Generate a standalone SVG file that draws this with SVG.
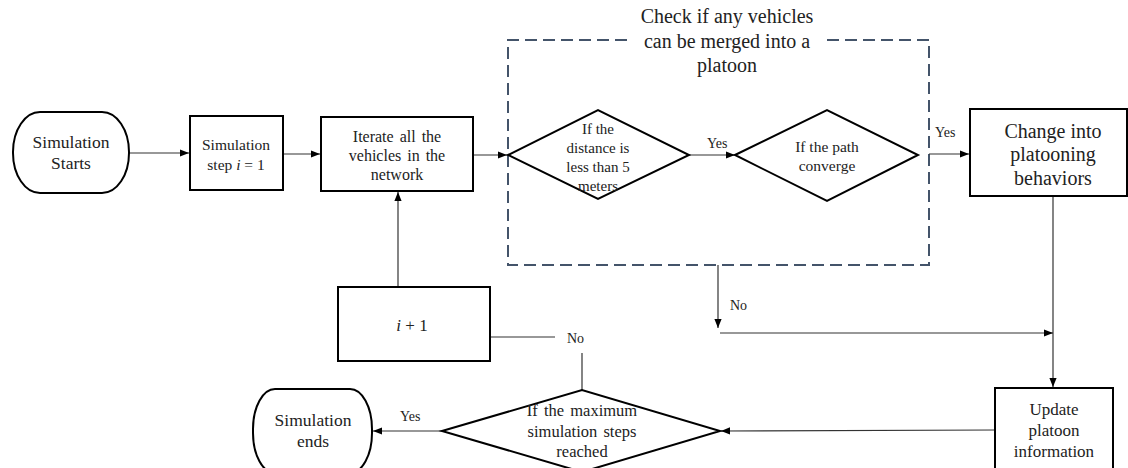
<svg xmlns="http://www.w3.org/2000/svg" width="1128" height="468" viewBox="0 0 1128 468" font-family="'Liberation Serif', 'Times New Roman', serif">
<defs>
<marker id="ah" viewBox="0 0 10 10" refX="10" refY="5" markerWidth="9" markerHeight="9" markerUnits="userSpaceOnUse" orient="auto">
<path d="M0,1 L10,5 L0,9 Z" fill="#000"/>
</marker>
</defs>
<style>
text{font-family:'Liberation Serif','Times New Roman',serif}
.t{fill:#222;text-anchor:middle}
.node{fill:#fff;stroke:#000;stroke-width:2}
.c{fill:none;stroke:#333;stroke-width:1.2}
.a{marker-end:url(#ah)}
.dash{fill:none;stroke:#44546A;stroke-width:2;stroke-dasharray:12 6}
.lbl{font-size:14px;text-anchor:start}
</style>
<rect width="1128" height="468" fill="#fff"/>

<g id="group-check">
<path class="dash" d="M627,40 H508 V265 H929 V40 H827"/>
<text class="t" font-size="20" x="727" y="23">Check if any vehicles</text>
<text class="t" font-size="20" x="727" y="48">can be merged into a</text>
<text class="t" font-size="20" x="727" y="72">platoon</text>
</g>

<g id="connectors">
<line class="c a" x1="129" y1="153" x2="189" y2="153"/>
<line class="c a" x1="283" y1="154" x2="320" y2="154"/>
<line class="c a" x1="473" y1="155" x2="507" y2="155"/>
<line class="c a" x1="689" y1="155" x2="735" y2="155"/>
<line class="c a" x1="929" y1="154" x2="969" y2="154"/>
<line class="c a" x1="1053" y1="197" x2="1053" y2="387"/>
<line class="c a" x1="718" y1="265" x2="718" y2="328"/>
<line class="c a" x1="720" y1="333" x2="1053" y2="333"/>
<line class="c a" x1="995" y1="430" x2="721" y2="431"/>
<line class="c a" x1="442" y1="431" x2="373" y2="431"/>
<line class="c" x1="582" y1="390" x2="582" y2="353"/>
<line class="c" x1="490" y1="337" x2="555" y2="337"/>
<line class="c a" x1="398" y1="287" x2="398" y2="192"/>
<text class="t lbl" x="707" y="148">Yes</text>
<text class="t lbl" x="935" y="137">Yes</text>
<text class="t lbl" x="730" y="310" font-size="15">No</text>
<text class="t lbl" x="567" y="343" font-size="15">No</text>
<text class="t lbl" x="400" y="421">Yes</text>
</g>

<g id="sim-starts">
<rect class="node" x="13" y="112" width="116" height="81" rx="27" ry="40"/>
<text class="t" font-size="17.5" x="71" y="148">Simulation</text>
<text class="t" font-size="17.5" x="71" y="169">Starts</text>
</g>

<g id="sim-step">
<rect class="node" x="190" y="116" width="93" height="74"/>
<text class="t" font-size="15.5" x="236" y="150">Simulation</text>
<text class="t" font-size="15.5" x="236" y="170">step <tspan font-style="italic">i</tspan> = 1</text>
</g>

<g id="iterate">
<rect class="node" x="321" y="117" width="152" height="74"/>
<text class="t" font-size="16" x="397" y="142" word-spacing="2">Iterate all the</text>
<text class="t" font-size="16" x="397" y="161" word-spacing="2">vehicles in the</text>
<text class="t" font-size="16" x="397" y="180">network</text>
</g>

<g id="distance">
<polygon class="node" points="508,155 598,110 689,155 598,199"/>
<text class="t" font-size="15" x="598" y="134">If the</text>
<text class="t" font-size="15" x="598" y="153">distance is</text>
<text class="t" font-size="15" x="598" y="172">less than 5</text>
<text class="t" font-size="15" x="598" y="191">meters</text>
</g>

<g id="path-converge">
<polygon class="node" points="735,155 827,110 918,155 827,201"/>
<text class="t" font-size="15.5" x="827" y="152">If the path</text>
<text class="t" font-size="15.5" x="827" y="171">converge</text>
</g>

<g id="change">
<rect class="node" x="970" y="109" width="157" height="87"/>
<text class="t" font-size="20" x="1053" y="138">Change into</text>
<text class="t" font-size="20" x="1053" y="161">platooning</text>
<text class="t" font-size="20" x="1053" y="185">behaviors</text>
</g>

<g id="update">
<rect class="node" x="995" y="388" width="118" height="84"/>
<text class="t" font-size="17" x="1054" y="415">Update</text>
<text class="t" font-size="17" x="1054" y="436">platoon</text>
<text class="t" font-size="17" x="1054" y="457">information</text>
</g>

<g id="max-steps">
<polygon class="node" points="442,431 582,390 720,431 582,472"/>
<text class="t" font-size="16.5" x="582" y="416" word-spacing="2">If the maximum</text>
<text class="t" font-size="16.5" x="582" y="437" word-spacing="2">simulation steps</text>
<text class="t" font-size="16.5" x="582" y="457">reached</text>
</g>

<g id="increment">
<rect class="node" x="338" y="287" width="152" height="74"/>
<text class="t" font-size="17" x="412" y="331"><tspan font-style="italic">i</tspan> + 1</text>
</g>

<g id="sim-ends">
<rect class="node" x="253" y="389" width="119" height="84" rx="22" ry="40"/>
<text class="t" font-size="17.5" x="313" y="426">Simulation</text>
<text class="t" font-size="17.5" x="313" y="447">ends</text>
</g>
</svg>
